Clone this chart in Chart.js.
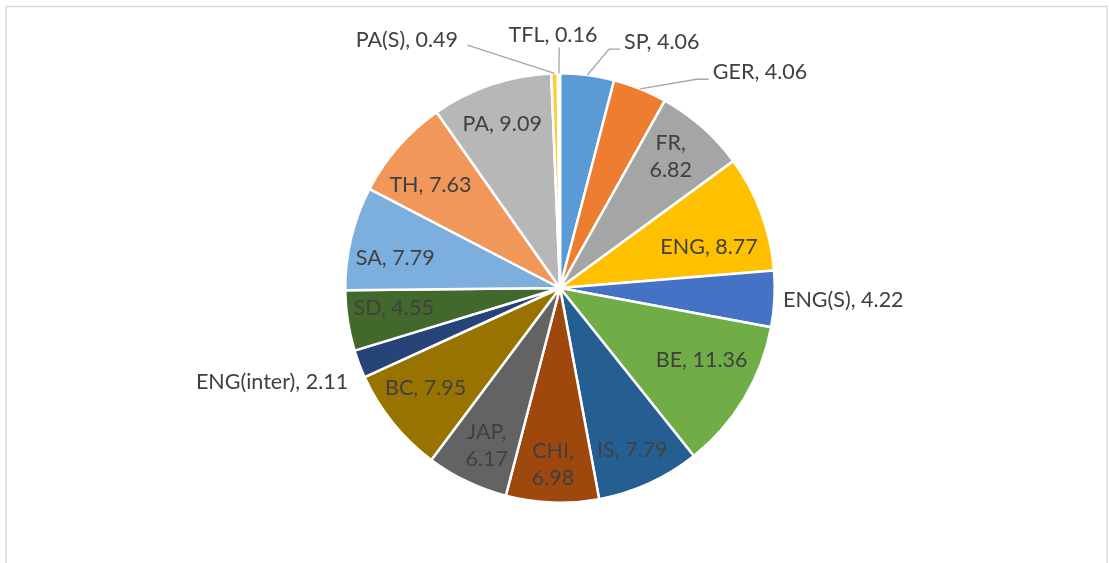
<!DOCTYPE html>
<html>
<head>
<meta charset="utf-8">
<title>Pie</title>
<script src="https://cdn.jsdelivr.net/npm/chart.js@4/dist/chart.umd.min.js"></script>
<style>
    html, body { margin: 0; padding: 0; background: #fff; }
    #wrap { position: relative; width: 1109px; height: 563px; }
</style>
</head>
<body>
<div id="wrap"><canvas id="pieChart" width="1109" height="563"></canvas></div>
<script>
// Données
const categories = ['SP', 'GER', 'FR', 'ENG', 'ENG(S)', 'BE', 'IS', 'CHI', 'JAP', 'BC',
    'ENG(inter)', 'SD', 'SA', 'TH', 'PA', 'PA(S)', 'TFL'];
const shares = [4.06, 4.06, 6.82, 8.77, 4.22, 11.36, 7.79, 6.98, 6.17, 7.95,
    2.11, 4.55, 7.79, 7.63, 9.09, 0.49, 0.16];

const sliceColors = ['#5B9BD5', '#ED7D31', '#A5A5A5', '#FFC000', '#4472C4', '#70AD47',
    '#255E91', '#9E480E', '#636363', '#997300', '#264478', '#43682B',
    '#7CAFDD', '#F1975A', '#B7B7B7', '#FFCD33', '#698ED0'];

// Placement des étiquettes (fraction du rayon, décalage d'angle en degrés)
const labelPlacement = [
    { r: 1.183, da: 7.3, align: 'left', lead: { r: 1.136, da: 4.3, hx: 11 } },
    { r: 1.231, da: 13.4, align: 'left', lead: { r: 1.162, da: 11.3, hx: 12 } },
    { r: 0.80, da: -1.4, align: 'center', wrap: true },
    { r: 0.72, da: 5, align: 'center' },
    { r: 1.04, da: 0.1, align: 'left' },
    { r: 0.74, da: -4, align: 'center' },
    { r: 0.825, da: 0.5, align: 'center' },
    { r: 0.825, da: 0.2, align: 'center', wrap: true },
    { r: 0.81, da: -0.8, align: 'center', wrap: true },
    { r: 0.78, da: 2.2, align: 'center' },
    { r: 1.08, da: -3.3, align: 'right' },
    { r: 0.78, da: 1.9, align: 'center' },
    { r: 0.78, da: -3.1, align: 'center' },
    { r: 0.77, da: -2.8, align: 'center' },
    { r: 0.81, da: -0.7, align: 'center' },
    { r: 1.248, da: -20.9, align: 'right', lead: { r: 1.21, da: -19.4, hx: 0 } },
    { r: 1.177, da: -1.3, align: 'center', lead: { r: 1.12, da: 0.1, hx: 0 } }
];

const LABEL_FONT = '21.5px Lato';
const LABEL_COLOR = '#404040';
const LINE_HEIGHT = 27;

const frameBorder = {
    id: 'frameBorder',
    beforeDraw(chart) {
        const ctx = chart.ctx;
        ctx.save();
        ctx.strokeStyle = '#D9D9D9';
        ctx.lineWidth = 1.5;
        ctx.strokeRect(6, 6.5, 1101, 620);
        ctx.restore();
    }
};

const pieLabels = {
    id: 'pieLabels',
    afterDatasetsDraw(chart) {
        const ctx = chart.ctx;
        const meta = chart.getDatasetMeta(0);
        ctx.save();
        ctx.font = LABEL_FONT;
        ctx.fillStyle = LABEL_COLOR;
        ctx.textBaseline = 'middle';
        meta.data.forEach((arc, i) => {
            const p = labelPlacement[i];
            const { x, y, outerRadius, startAngle, endAngle } = arc.getProps(['x', 'y', 'outerRadius', 'startAngle', 'endAngle'], true);
            const mid = (startAngle + endAngle) / 2;
            const at = (frac, da) => {
                const a = mid + da * Math.PI / 180;
                return [x + outerRadius * frac * Math.cos(a), y + outerRadius * frac * Math.sin(a)];
            };

            // Ligne de rappel
            if (p.lead) {
                const [sx, sy] = at(1, 0);
                const [ex, ey] = at(p.lead.r, p.lead.da);
                ctx.save();
                ctx.strokeStyle = '#A6A6A6';
                ctx.lineWidth = 1.3;
                ctx.beginPath();
                ctx.moveTo(sx, sy);
                ctx.lineTo(ex, ey);
                if (p.lead.hx) ctx.lineTo(ex + p.lead.hx, ey);
                ctx.stroke();
                ctx.restore();
            }

            const [tx, ty] = at(p.r, p.da);
            const text = `${categories[i]}, ${shares[i].toFixed(2)}`;
            ctx.textAlign = p.align;
            if (p.wrap) {
                const parts = [categories[i] + ',', shares[i].toFixed(2)];
                ctx.fillText(parts[0], tx, ty - LINE_HEIGHT / 2);
                ctx.fillText(parts[1], tx, ty + LINE_HEIGHT / 2);
            } else {
                ctx.fillText(text, tx, ty);
            }
        });
        ctx.restore();
    }
};

new Chart(document.getElementById('pieChart'), {
    type: 'pie',
    data: {
        labels: categories,
        datasets: [{
            data: shares,
            backgroundColor: sliceColors,
            borderColor: '#FFFFFF',
            borderWidth: 2.5
        }]
    },
    options: {
        responsive: false,
        animation: false,
        events: [],
        layout: { padding: { top: 72, bottom: 59, left: 11, right: 0 } },
        plugins: {
            legend: { display: false },
            tooltip: { enabled: false },
            title: { display: false }
        }
    },
    plugins: [frameBorder, pieLabels]
});
</script>
</body>
</html>
